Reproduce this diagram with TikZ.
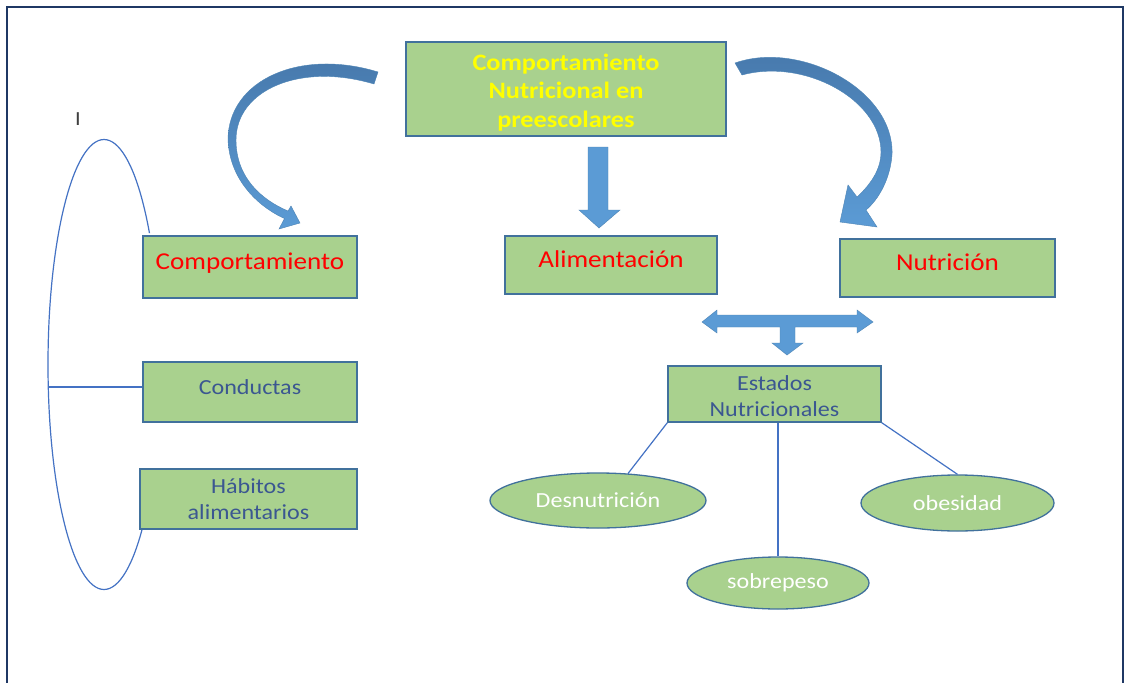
\documentclass[tikz,border=0pt]{standalone}
\usepackage{fontspec}
\setmainfont{Carlito}[FakeStretch=1.12]
\usetikzlibrary{shapes.geometric}
\definecolor{boxfill}{HTML}{A9D18E}
\definecolor{boxline}{HTML}{41719C}
\definecolor{txtblue}{HTML}{3B5791}
\definecolor{arrowlight}{HTML}{5B9BD5}
\definecolor{arrowdark}{HTML}{4677AA}
\definecolor{framecol}{HTML}{1F3864}
\definecolor{linkcol}{HTML}{4472C4}
\definecolor{redtxt}{HTML}{FF0000}
\definecolor{yeltxt}{HTML}{FFFF00}
\begin{document}
\begin{tikzpicture}[x=1pt,y=-1pt,
  box/.style={draw=boxline, fill=boxfill, line width=1.3pt, inner sep=0pt, align=center},
  bigtxt/.style={font=\fontsize{24.2}{28.5}\selectfont},
  smalltxt/.style={font=\fontsize{21.5}{26}\selectfont, text=txtblue},
  lifted/.style={text height=16pt, text depth=11pt},
  oval/.style={ellipse, draw=boxline, fill=boxfill, line width=1.3pt, inner sep=0pt, text=white, font=\fontsize{21.5}{26}\selectfont},
  link/.style={draw=linkcol, line width=1.2pt},
  fatarrow/.style={fill=arrowlight, draw=arrowlight!85!black, line width=0.4pt},
  curvearrow/.style={top color=arrowdark, bottom color=arrowlight, draw=arrowlight!85!black, line width=0.4pt}
]
\useasboundingbox (0,0) rectangle (1125,683);
\fill[white] (0,0) rectangle (1125,683);
\draw[framecol, line width=2.8pt] (7,7) rectangle (1123,720);

% boxes
\node[box, font=\bfseries\fontsize{23.5}{28.5}\selectfont, text=yeltxt, minimum width=320pt, minimum height=94pt] (top) at (566,89) {\rule{0pt}{23pt}Comportamiento\\Nutricional en\\preescolares};
\node[box, bigtxt, lifted, text=redtxt, minimum width=214pt, minimum height=62pt] (comp) at (250,267) {Comportamiento};
\node[box, bigtxt, lifted, text=redtxt, minimum width=212pt, minimum height=58pt] (alim) at (611,265) {Alimentación};
\node[box, bigtxt, lifted, text=redtxt, minimum width=215pt, minimum height=58pt] (nut) at (947.5,268) {Nutrición};
\node[box, smalltxt, lifted, minimum width=214pt, minimum height=60pt] (cond) at (250,392) {Conductas};
\node[box, smalltxt, minimum width=217pt, minimum height=60pt] (hab) at (248.5,499) {Hábitos\\alimentarios};
\node[box, smalltxt, minimum width=213pt, minimum height=56pt] (est) at (774.5,394) {\rule{0pt}{20pt}Estados\\Nutricionales};

% ellipses
\node[oval, minimum width=216pt, minimum height=55pt] (des) at (598,500.5) {Desnutrición};
\node[oval, minimum width=193pt, minimum height=56pt] (obe) at (957.5,503) {obesidad};
\node[oval, minimum width=182pt, minimum height=52pt] (sob) at (778,583) {sobrepeso};

% links
\draw[link] (est.south west) -- (des.42);
\draw[link] (est.south -| sob.north) -- (sob.north);
\draw[link] (est.south east) -- (obe.north);

% bracket
\coordinate (bc) at (104,364.5);
\begin{scope}
\clip (0,0) -- (400,0) -- (400,233) -- (140,233) -- (140,530) -- (400,530) -- (400,683) -- (0,683) -- cycle;
\draw[link] (bc) ellipse [x radius=56, y radius=225];
\end{scope}
\coordinate (bl) at (48,387);
\draw[link] (bl) -- (bl -| cond.west);

\node[font=\fontsize{20}{20}\selectfont, text=black!75, inner sep=0pt] (cursor) at (78,119) {I};

% straight arrow
\fill[fatarrow] (588,147) -- (608,147) -- (608,210) -- (620,210) -- (599,228) -- (579,210) -- (588,210) -- cycle;

% T arrow
\fill[fatarrow] (702,322) -- (717,310) -- (717,315) -- (857,315) -- (857,310) -- (873,322) -- (857,333) -- (857,327) -- (795,327) -- (795,343) -- (803,343) -- (787,355) -- (772,343) -- (780,343) -- (780,327) -- (717,327) -- (717,333) -- cycle;

% left curved arrow
\shadedraw[curvearrow] (378,72) .. controls (300,48) and (228,80) .. (228,140) .. controls (230,185) and (265,210) .. (284.5,218.5) -- (279,229) -- (300,223) -- (291,206) -- (288,211) .. controls (262,200) and (236,178) .. (236,140) .. controls (236,90) and (300,62) .. (374,84) -- cycle;

% right curved arrow
\shadedraw[curvearrow] (735,63) .. controls (800,40) and (895,90) .. (892,155) .. controls (890,180) and (878,200) .. (866,210) -- (877,227) -- (840,222) -- (848,185) -- (857,197) .. controls (870,185) and (881,170) .. (881,152) .. controls (881,100) and (805,58) .. (742,75) -- cycle;
\end{tikzpicture}
\end{document}
